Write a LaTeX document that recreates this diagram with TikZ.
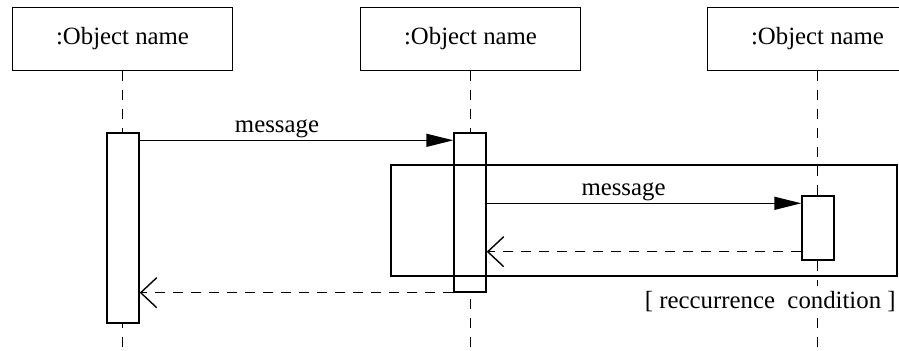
\documentclass[tikz,border=0pt]{standalone}
\usepackage{fontspec}
\setmainfont{Liberation Serif}
\usetikzlibrary{arrows.meta}
\begin{document}
\begin{tikzpicture}[x=0.5pt,y=-0.5pt,
  every node/.style={font=\fontsize{12.4pt}{14pt}\selectfont},
  lw/.style={line width=0.7pt},
  objbox/.style={lw,draw,fill=white,minimum width=110pt,minimum height=31.5pt,inner sep=0pt},
  actbox/.style={lw,draw,fill=white,minimum width=16pt,inner sep=0pt},
  framebox/.style={lw,draw,minimum width=253pt,minimum height=55.5pt,inner sep=0pt},
  life/.style={lw,dash pattern=on 5pt off 4.5pt},
  msg/.style={lw,-{Triangle[length=13.5pt,width=6.5pt]}},
  ret/.style={lw,dash pattern=on 5pt off 4pt,-{Straight Barb[length=8pt,width=15pt,line width=0.7pt]}},
  lbl/.style={anchor=base,inner sep=0pt}
]
\path[use as bounding box] (0,0) rectangle (899,351);
\clip (0,0) rectangle (899,351);
\coordinate (bot) at (0,351);
% object boxes
\node[objbox] (o1) at (122.5,39) {:Object name};
\node[objbox] (o2) at (470.5,39) {:Object name};
\node[objbox] (o3) at (817.5,39) {:Object name};
% lifelines
\draw[life] (o1.south) -- (o1.south |- bot);
\draw[life] (o2.south) -- (o2.south |- bot);
\draw[life] (o3.south) -- (o3.south |- bot);
% activations
\node[actbox,minimum height=95pt] (a1) at (123,228) {};
\node[actbox,minimum height=79.5pt] (a2) at (470,212.5) {};
\node[actbox,minimum height=32pt] (a3) at (818,228) {};
% loop frame
\node[framebox] (loop) at (644,220.5) {};
% messages
\coordinate (m1) at ([yshift=-4pt]a2.north west);
\draw[msg] (a1.east |- m1) -- (m1);
\node[lbl] (l1) at (277,133) {message};
\coordinate (m2) at ([yshift=-4pt]a3.north west);
\draw[msg] (a2.east |- m2) -- (m2);
\node[lbl] (l2) at (623.5,196) {message};
\coordinate (r1) at ([yshift=4.5pt]a3.south west);
\draw[ret] (r1) -- (a2.east |- r1);
\draw[ret] (a2.south west) -- (a1.east |- a2.south west);
\node[anchor=base east,fill=white,inner xsep=0pt,inner ysep=3pt] (cond) at (896,309) {[ reccurrence\ \ condition ]};
\end{tikzpicture}
\end{document}
